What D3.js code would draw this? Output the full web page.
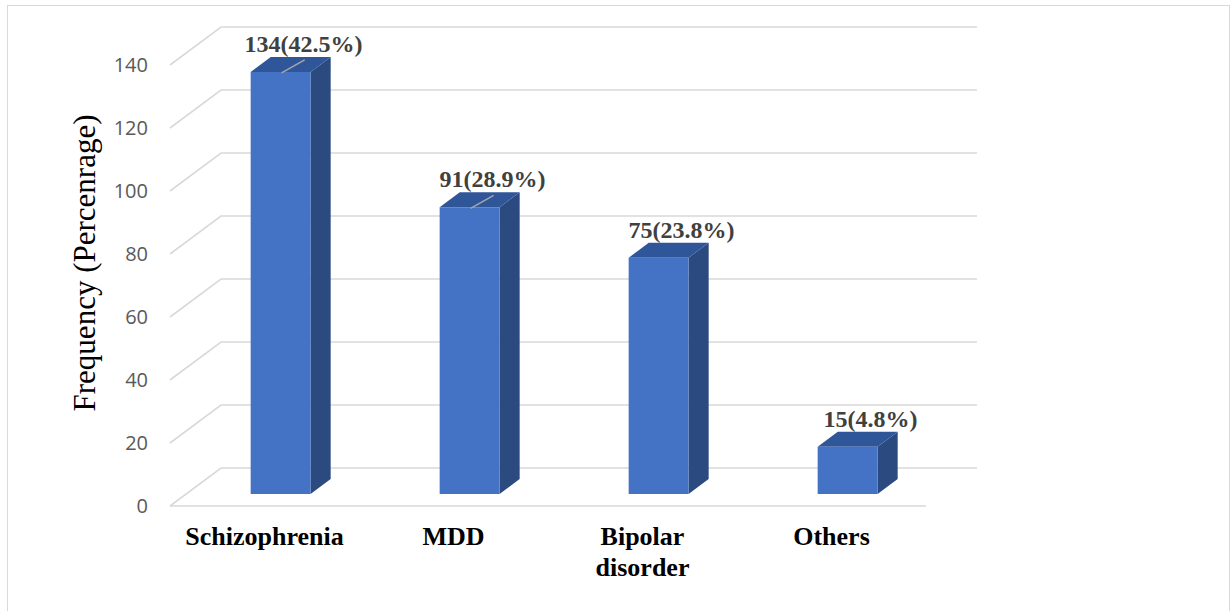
<!DOCTYPE html>
<html>
<head>
<meta charset="utf-8">
<script src="https://cdn.jsdelivr.net/npm/d3@7"></script>
<style>
  html, body { margin: 0; padding: 0; background: #ffffff; }
  svg { display: block; }
</style>
</head>
<body>
<svg id="chart" width="1231" height="611"></svg>
<script>
// Diagnosis counts with their share of the sample
const categories = ["Schizophrenia", "MDD", "Bipolar disorder", "Others"];
const counts = [134, 91, 75, 15];
const percents = ["42.5%", "28.9%", "23.8%", "4.8%"];
const yTicks = [0, 20, 40, 60, 80, 100, 120, 140];
const hasLeader = [true, true, false, false];
const yTitle = "Frequency (Percenrage)";

const svg = d3.select("#chart");

// Chart frame
svg.append("rect")
  .attr("x", 7.5).attr("y", 5.5)
  .attr("width", 1222).attr("height", 640)
  .attr("fill", "none").attr("stroke", "#D9D9D9").attr("stroke-width", 1);

// Front plane scales; depth is projected as an oblique offset
const x = d3.scaleBand().domain(categories).range([170, 926]).padding(0);
const y = d3.scaleLinear().domain([0, 140]).range([506, 65]);
const depth = { dx: 51, dy: -38 };
const barFront = 0.316, barBack = 0.71;
const barWidth = x.bandwidth() * 0.317;

const proj = (px, v, f) => [px + f * depth.dx, y(v) + f * depth.dy];

const grid = svg.append("g").attr("stroke", "#D9D9D9").attr("stroke-width", 1.6).attr("fill", "none");
const [x0, x1] = x.range();

yTicks.forEach(v => {
  const a = proj(x0, v, 0), b = proj(x0, v, 1), c = proj(x1, v, 1);
  grid.append("path").attr("d", d3.line()([a, b, c]));
});
// Floor front edge
grid.append("path").attr("d", d3.line()([proj(x0, 0, 0), proj(x1, 0, 0)]));

// Y tick labels
svg.append("g").selectAll("text").data(yTicks).join("text")
  .attr("x", 148).attr("y", d => y(d))
  .attr("dy", "0.36em")
  .attr("text-anchor", "end")
  .attr("font-family", "'Open Sans', sans-serif")
  .attr("font-size", 20)
  .attr("fill", "#595959")
  .text(d => d);

// Y axis title
svg.append("text")
  .attr("transform", "translate(95,263) rotate(-90)")
  .attr("text-anchor", "middle")
  .attr("font-family", "'Liberation Serif', 'Times New Roman', serif")
  .attr("font-size", 31)
  .attr("fill", "#000")
  .text(yTitle);

// 3D bars
const bars = svg.append("g");
categories.forEach((cat, i) => {
  const v = counts[i];
  const left = x(cat) + (x.bandwidth() - barWidth) / 2;
  const right = left + barWidth;
  const fbl = proj(left, 0, barFront), fbr = proj(right, 0, barFront);
  const ftl = proj(left, v, barFront), ftr = proj(right, v, barFront);
  const bbr = proj(right, 0, barBack);
  const btl = proj(left, v, barBack), btr = proj(right, v, barBack);

  bars.append("path").attr("d", d3.line()([fbr, bbr, btr, ftr]) + "Z").attr("fill", "#2B4A80");
  bars.append("path").attr("d", d3.line()([ftl, ftr, btr, btl]) + "Z").attr("fill", "#30569A");
  bars.append("path").attr("d", d3.line()([fbl, fbr, ftr, ftl]) + "Z").attr("fill", "#4472C4");

  const cx = (ftl[0] + ftr[0]) / 2;
  const lx = cx + 23;
  const ly = btl[1] - 5;
  if (hasLeader[i]) {
    bars.append("line")
      .attr("x1", cx + 1).attr("y1", ftl[1] + 1)
      .attr("x2", lx + 1).attr("y2", ly + 8)
      .attr("stroke", "#A6A6A6").attr("stroke-width", 1.5);
  }
  bars.append("text")
    .attr("x", lx).attr("y", ly)
    .attr("text-anchor", "middle")
    .attr("font-family", "'Liberation Serif', 'Times New Roman', serif")
    .attr("font-weight", "bold")
    .attr("font-size", 24)
    .attr("fill", "#404040")
    .text(`${v}(${percents[i]})`);
});

// Category labels (wrapped onto two lines where needed)
const xl = svg.append("g")
  .attr("font-family", "'Liberation Serif', 'Times New Roman', serif")
  .attr("font-weight", "bold")
  .attr("font-size", 26)
  .attr("fill", "#000")
  .attr("text-anchor", "middle");
categories.forEach(cat => {
  const words = cat.split(" ");
  const t = xl.append("text").attr("x", x(cat) + x.bandwidth() / 2).attr("y", 545);
  words.forEach((w, j) => {
    t.append("tspan").attr("x", x(cat) + x.bandwidth() / 2).attr("dy", j === 0 ? 0 : 31).text(w);
  });
});
</script>
</body>
</html>
